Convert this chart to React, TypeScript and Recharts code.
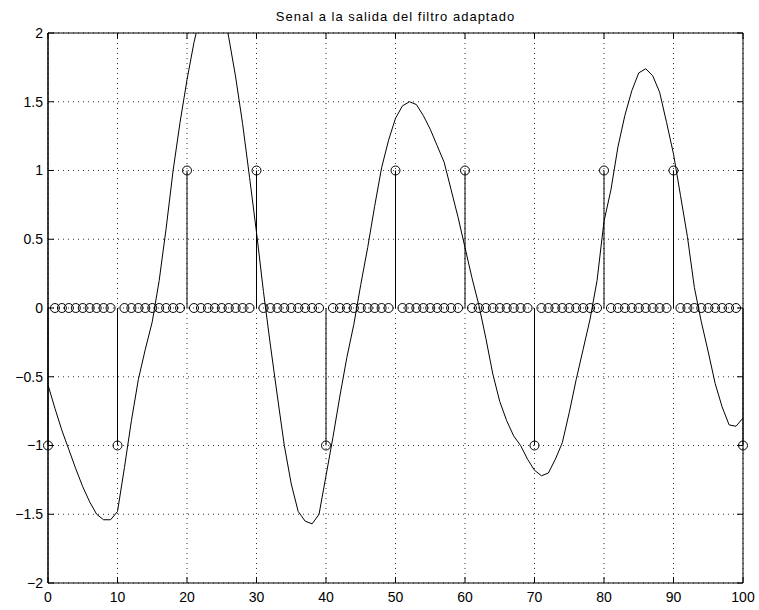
import React from 'react';
import { ComposedChart, Line, Scatter, XAxis, YAxis, CartesianGrid, ReferenceLine } from 'recharts';

const xTicks = [0, 10, 20, 30, 40, 50, 60, 70, 80, 90, 100];
const yTicks = [-2, -1.5, -1, -0.5, 0, 0.5, 1, 1.5, 2];

const pulsePositions = [0, 10, 20, 30, 40, 50, 60, 70, 80, 90, 100];
const pulseValues = [-1, -1, 1, 1, -1, 1, 1, -1, 1, 1, -1];

const filterOutput = [
  -0.56, -0.73, -0.89, -1.03, -1.17, -1.3, -1.41, -1.5, -1.54, -1.54,
  -1.48, -1.16, -0.82, -0.52, -0.3, -0.1, 0.2, 0.58, 1.0, 1.35,
  1.66, 1.93, 2.15, 2.3, 2.33, 2.22, 1.97, 1.68, 1.34, 0.95,
  0.55, 0.12, -0.27, -0.64, -1.0, -1.28, -1.48, -1.55, -1.57, -1.5,
  -1.22, -0.94, -0.64, -0.36, -0.12, 0.17, 0.44, 0.74, 1.02, 1.22,
  1.38, 1.47, 1.5, 1.48, 1.4, 1.3, 1.18, 1.06, 0.86, 0.66,
  0.44, 0.22, 0.02, -0.22, -0.48, -0.68, -0.82, -0.93, -1.0, -1.1,
  -1.18, -1.22, -1.2, -1.1, -0.98, -0.76, -0.52, -0.3, -0.08, 0.2,
  0.63, 0.86, 1.17, 1.4, 1.58, 1.71, 1.74, 1.69, 1.57, 1.35,
  1.12, 0.82, 0.52, 0.15, -0.1, -0.32, -0.55, -0.72, -0.85, -0.86,
  -0.8,
];

const data = filterOutput.map((y, n) => {
  const idx = pulsePositions.indexOf(n);
  return { n, y, s: idx >= 0 ? pulseValues[idx] : 0 };
});

const W = 759;
const H = 610;
const PL = 48, PR = 743, PT = 33, PB = 583;
const tickX = (6 / (PR - PL)) * 100;
const tickY = (6 / (PB - PT)) * 4;

const font = 'Liberation Sans, Arial, Helvetica, sans-serif';
const fmt = (v: number) => String(v).replace('-', '\u2212');

const Circle = (props: any) => {
  const { cx, cy } = props;
  if (cx == null || cy == null) return null;
  return <circle cx={cx} cy={cy} r={4.5} fill="none" stroke="#000" strokeWidth={1} />;
};

const YTick = (props: any) => {
  const { y, payload } = props;
  return (
    <text
      x={PL - 5}
      y={y}
      dy="0.355em"
      textAnchor="end"
      fill="#000"
      fontSize={14}
      fontFamily={font}
    >
      {fmt(payload.value)}
    </text>
  );
};

export default function App() {
  return (
    <div style={{ position: 'absolute', left: 0, top: 0, width: W, height: H, background: '#fff' }}>
      <div
        style={{
          position: 'absolute',
          left: PL,
          width: PR - PL,
          top: 10,
          textAlign: 'center',
          fontFamily: font,
          fontSize: 13,
          lineHeight: '13px',
          letterSpacing: '1px',
          color: '#000',
        }}
      >
        Senal a la salida del filtro adaptado
      </div>
      <ComposedChart
        width={W}
        height={H}
        data={data}
        margin={{ top: PT, right: W - PR, left: 0, bottom: 0 }}
      >
        <CartesianGrid yAxisId="left" stroke="#333" strokeDasharray="1 4" />
        <XAxis
          dataKey="n"
          type="number"
          domain={[0, 100]}
          ticks={xTicks}
          interval={0}
          height={H - PB}
          tickSize={0}
          tickMargin={9}
          axisLine={{ stroke: '#000' }}
          tickLine={false}
          tick={{ fill: '#000', fontSize: 14, fontFamily: font }}
          tickFormatter={fmt}
        />
        <YAxis
          yAxisId="left"
          type="number"
          domain={[-2, 2]}
          ticks={yTicks}
          interval={0}
          width={PL}
          tickSize={0}
          tickMargin={5}
          axisLine={{ stroke: '#000' }}
          tickLine={false}
          tick={<YTick />}
        />
        <YAxis
          yAxisId="clip"
          orientation="right"
          width={0}
          type="number"
          domain={[-2, 2]}
          allowDataOverflow
          hide
        />
        <ReferenceLine yAxisId="left" y={2} stroke="#000" />
        <ReferenceLine yAxisId="left" x={100} stroke="#000" />
        <ReferenceLine yAxisId="left" x={0} stroke="#000" />
        {xTicks.map((t) => (
          <ReferenceLine
            key={'xb' + t}
            yAxisId="left"
            segment={[{ x: t, y: -2 }, { x: t, y: -2 + tickY }]}
            stroke="#000"
          />
        ))}
        {xTicks.map((t) => (
          <ReferenceLine
            key={'xt' + t}
            yAxisId="left"
            segment={[{ x: t, y: 2 }, { x: t, y: 2 - tickY }]}
            stroke="#000"
          />
        ))}
        {yTicks.map((t) => (
          <ReferenceLine
            key={'yl' + t}
            yAxisId="left"
            segment={[{ x: 0, y: t }, { x: tickX, y: t }]}
            stroke="#000"
          />
        ))}
        {yTicks.map((t) => (
          <ReferenceLine
            key={'yr' + t}
            yAxisId="left"
            segment={[{ x: 100, y: t }, { x: 100 - tickX, y: t }]}
            stroke="#000"
          />
        ))}
        {pulsePositions.map((p, i) => (
          <ReferenceLine
            key={'stem' + p}
            yAxisId="left"
            segment={[{ x: p, y: 0 }, { x: p, y: pulseValues[i] }]}
            stroke="#000"
          />
        ))}
        <Line
          yAxisId="clip"
          type="linear"
          dataKey="y"
          stroke="#000"
          strokeWidth={1}
          dot={false}
          activeDot={false}
          isAnimationActive={false}
        />
        <Scatter yAxisId="left" dataKey="s" shape={Circle} isAnimationActive={false} />
      </ComposedChart>
    </div>
  );
}
